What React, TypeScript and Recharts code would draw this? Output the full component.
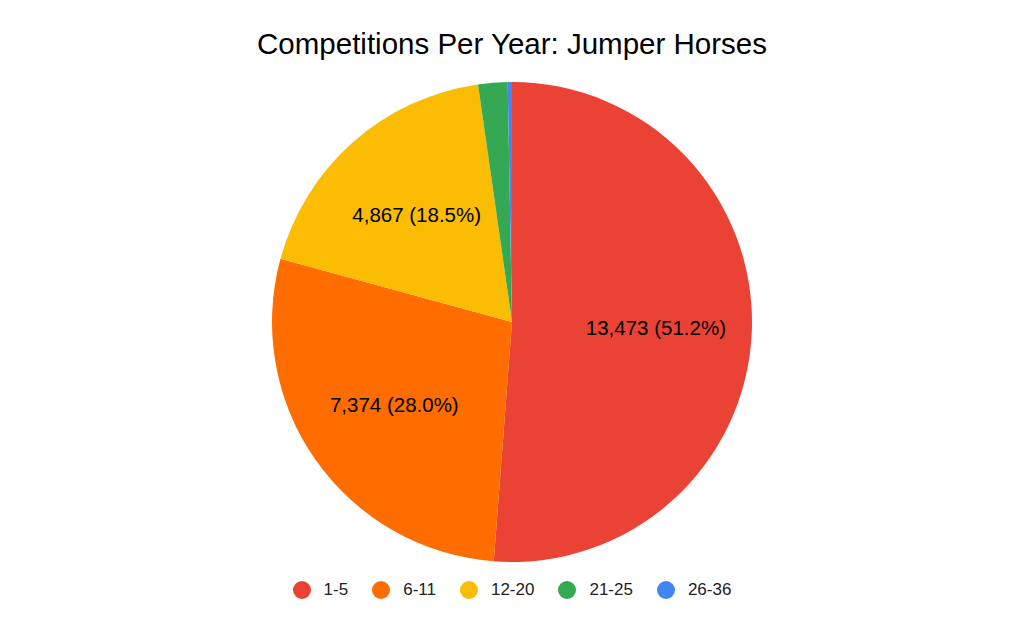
import React from "react";
import { PieChart, Pie, Cell } from "recharts";

const categories = ["1-5", "6-11", "12-20", "21-25", "26-36"];
const counts = [13473, 7374, 4867, 520, 75];
const colors = ["#EA4335", "#FF6D01", "#FBBC04", "#34A853", "#4285F4"];
const title = "Competitions Per Year: Jumper Horses";

const data = categories.map((name, i) => ({ name, value: counts[i] }));
const total = counts.reduce((a, b) => a + b, 0);
const FONT = "'Liberation Sans', Arial, sans-serif";

const RAD = Math.PI / 180;
const renderLabel = (props: any) => {
  const { cx, cy, midAngle, outerRadius, value } = props;
  const pct = value / total;
  if (pct < 0.05) return null;
  const r = outerRadius * 0.6;
  const x = cx + r * Math.cos(-midAngle * RAD);
  const y = cy + r * Math.sin(-midAngle * RAD);
  return (
    <text
      x={x}
      y={y}
      textAnchor="middle"
      dominantBaseline="central"
      fill="#000"
      style={{ fontFamily: FONT, fontSize: 20.5 }}
    >
      {`${value.toLocaleString("en-US")} (${(pct * 100).toFixed(1)}%)`}
    </text>
  );
};

export default function App() {
  return (
    <div
      style={{
        position: "absolute",
        left: 0,
        top: 0,
        width: 1024,
        height: 633,
        background: "#fff",
        fontFamily: FONT,
      }}
    >
      <div
        style={{
          position: "absolute",
          left: 0,
          top: 26,
          width: 1024,
          textAlign: "center",
          fontSize: 29.5,
          color: "#000",
          lineHeight: "36px",
        }}
      >
        {title}
      </div>
      <PieChart
        width={1024}
        height={633}
        margin={{ top: 0, right: 0, bottom: 0, left: 0 }}
        style={{ position: "absolute", left: 0, top: 0 }}
      >
        <Pie
          data={data}
          dataKey="value"
          nameKey="name"
          cx={512}
          cy={322}
          outerRadius={240}
          startAngle={90}
          endAngle={-270}
          stroke="none"
          label={renderLabel}
          labelLine={false}
          isAnimationActive={false}
        >
          {data.map((d, i) => (
            <Cell key={d.name} fill={colors[i]} />
          ))}
        </Pie>
      </PieChart>
      <div
        style={{
          position: "absolute",
          left: 0,
          top: 579,
          width: 1024,
          display: "flex",
          justifyContent: "center",
          alignItems: "center",
          fontSize: 17,
          color: "#222",
        }}
      >
        {categories.map((c, i) => (
          <div
            key={c}
            style={{
              display: "flex",
              alignItems: "center",
              marginRight: i < categories.length - 1 ? 24 : 0,
            }}
          >
            <span
              style={{
                display: "inline-block",
                width: 18,
                height: 18,
                borderRadius: 9,
                background: colors[i],
                marginRight: 13,
              }}
            />
            <span style={{ lineHeight: "22px" }}>{c}</span>
          </div>
        ))}
      </div>
    </div>
  );
}
